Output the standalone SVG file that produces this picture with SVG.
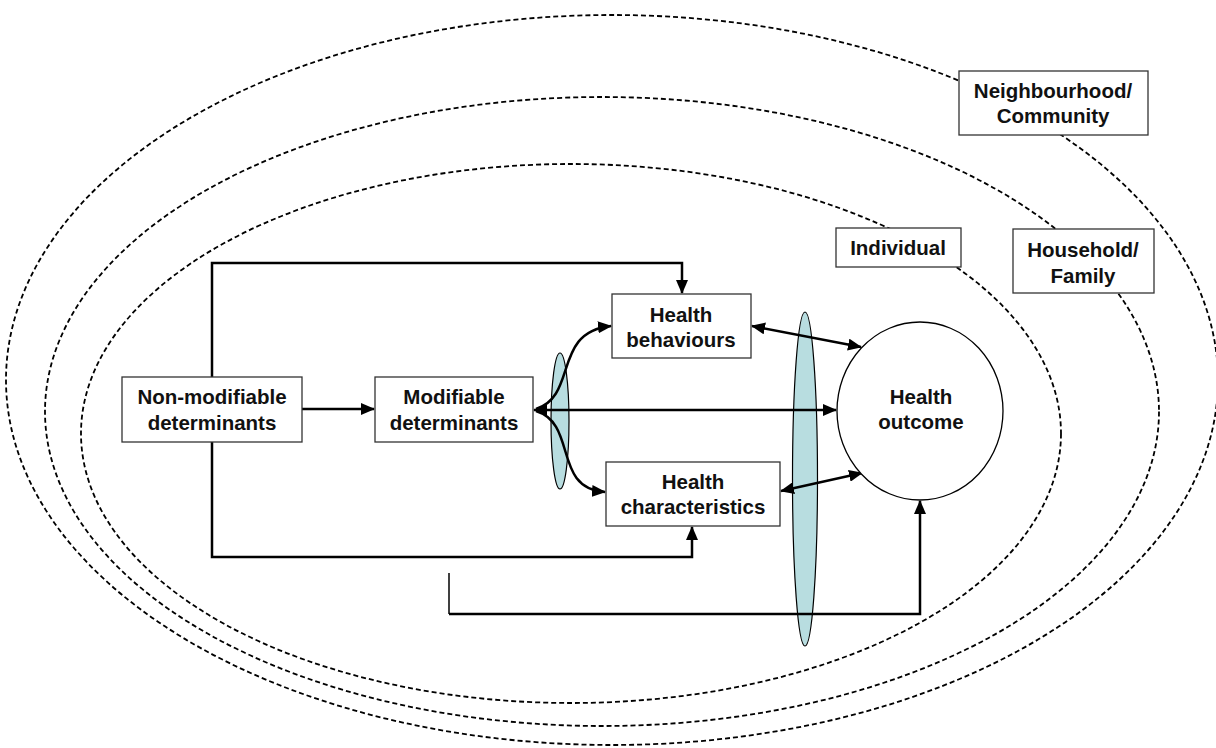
<svg xmlns="http://www.w3.org/2000/svg" width="1216" height="748" viewBox="0 0 1216 748">
<defs>
<style>
.ring{fill:none;stroke:#000;stroke-width:1.8;stroke-dasharray:5 3}
.box{fill:#fff;stroke:#333;stroke-width:1.3}
.lbl{font-family:"Liberation Sans",Arial,sans-serif;font-weight:bold;font-size:20.5px;fill:#111;text-anchor:middle}
.con{fill:none;stroke:#000;stroke-width:2.5}
.thin{fill:none;stroke:#000;stroke-width:1.5}
.blue{fill:#b8dde0;stroke:#000;stroke-width:1.2}
</style>
<marker id="ah" markerUnits="userSpaceOnUse" markerWidth="14" markerHeight="12" viewBox="0 0 14 12" refX="13" refY="6" orient="auto-start-reverse">
<path d="M0,0 L14,6 L0,12 z" fill="#000"/>
</marker>
</defs>
<rect width="1216" height="748" fill="#fff"/>
<g id="rings">
<ellipse class="ring" cx="612" cy="380" rx="606" ry="365"/>
<ellipse class="ring" cx="602" cy="411.5" rx="557" ry="314.5"/>
<ellipse class="ring" cx="571" cy="433.5" rx="490" ry="269.5"/>
</g>
<g id="ovals">
<ellipse class="blue" cx="560" cy="421" rx="9" ry="68"/>
<ellipse class="blue" cx="805" cy="479" rx="12.5" ry="167"/>
</g>
<g id="connectors">
<path class="con" d="M212,377 V263 H682 V293" marker-end="url(#ah)"/>
<path class="con" d="M212,442 V557 H692 V527" marker-end="url(#ah)"/>
<path class="con" d="M302,409 H374" marker-end="url(#ah)"/>
<path class="con" d="M534,410 H836" marker-start="url(#ah)" marker-end="url(#ah)"/>
<path class="con" d="M536,409 C578,396 552,332 611,326" marker-end="url(#ah)"/>
<path class="con" d="M536,411 C578,424 552,488 605,492" marker-end="url(#ah)"/>
<path class="con" d="M752,326 L861,347" marker-start="url(#ah)" marker-end="url(#ah)"/>
<path class="con" d="M781,491 L862,473" marker-start="url(#ah)" marker-end="url(#ah)"/>
<path class="thin" d="M449,573 V614"/>
<path class="con" d="M449,614 H920 V501" marker-end="url(#ah)"/>
</g>
<g id="nonmod">
<rect class="box" x="122" y="377" width="180" height="65"/>
<text class="lbl" x="212" y="404">Non-modifiable</text>
<text class="lbl" x="212" y="430">determinants</text>
</g>
<g id="mod">
<rect class="box" x="375" y="377" width="158" height="65"/>
<text class="lbl" x="454" y="404">Modifiable</text>
<text class="lbl" x="454" y="430">determinants</text>
</g>
<g id="behaviours">
<rect class="box" x="612" y="294" width="139" height="64"/>
<text class="lbl" x="681" y="322">Health</text>
<text class="lbl" x="681" y="347">behaviours</text>
</g>
<g id="characteristics">
<rect class="box" x="606" y="462" width="174" height="64"/>
<text class="lbl" x="693" y="489">Health</text>
<text class="lbl" x="693" y="514">characteristics</text>
</g>
<g id="outcome">
<ellipse cx="920" cy="411" rx="83" ry="89" fill="#fff" stroke="#000" stroke-width="1.3"/>
<text class="lbl" x="921" y="404">Health</text>
<text class="lbl" x="921" y="429">outcome</text>
</g>
<g id="individual">
<rect class="box" x="836" y="228" width="125" height="39"/>
<text class="lbl" x="898" y="255">Individual</text>
</g>
<g id="household">
<rect class="box" x="1013" y="229" width="141" height="64"/>
<text class="lbl" x="1083" y="257">Household/</text>
<text class="lbl" x="1083" y="283">Family</text>
</g>
<g id="neighbourhood">
<rect class="box" x="959" y="71" width="189" height="64"/>
<text class="lbl" x="1053" y="98">Neighbourhood/</text>
<text class="lbl" x="1053" y="123">Community</text>
</g>
</svg>
